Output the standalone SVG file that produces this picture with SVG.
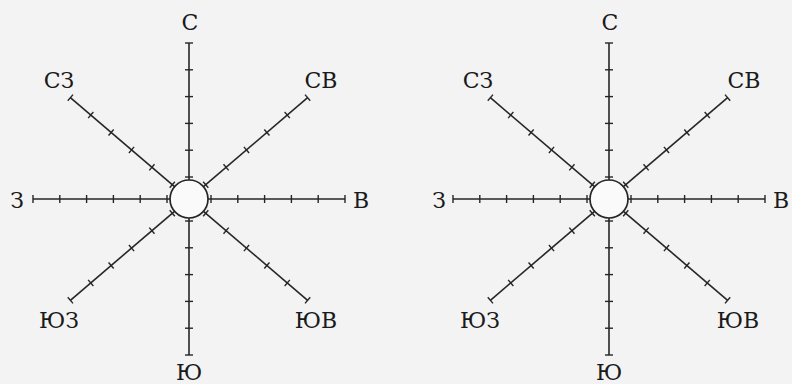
<svg xmlns="http://www.w3.org/2000/svg" xmlns:xlink="http://www.w3.org/1999/xlink" width="792" height="384" viewBox="0 0 792 384">
<style>
.ln{stroke:#262626;stroke-width:1.6;fill:none;stroke-linecap:butt}
.tk{stroke:#262626;stroke-width:1.4}
.lb{font-family:"DejaVu Serif","Liberation Serif",serif;font-size:22px;fill:#1a1a1a;text-anchor:middle}
</style>
<defs>
<g id="ray">
<line class="ln" x1="19" y1="0" x2="156" y2="0"/>
<line class="tk" x1="22" y1="-4" x2="22" y2="4"/>
<line class="tk" x1="48.8" y1="-4" x2="48.8" y2="4"/>
<line class="tk" x1="75.6" y1="-4" x2="75.6" y2="4"/>
<line class="tk" x1="102.4" y1="-4" x2="102.4" y2="4"/>
<line class="tk" x1="129.2" y1="-4" x2="129.2" y2="4"/>
<line class="tk" x1="156" y1="-4" x2="156" y2="4"/>
</g>
<g id="rose">
<use xlink:href="#ray" href="#ray" transform="rotate(0)"/>
<use xlink:href="#ray" href="#ray" transform="rotate(180)"/>
<use xlink:href="#ray" href="#ray" transform="rotate(-90)"/>
<use xlink:href="#ray" href="#ray" transform="rotate(90)"/>
<use xlink:href="#ray" href="#ray" transform="rotate(-40.5)"/>
<use xlink:href="#ray" href="#ray" transform="rotate(-139.5)"/>
<use xlink:href="#ray" href="#ray" transform="rotate(40.5)"/>
<use xlink:href="#ray" href="#ray" transform="rotate(139.5)"/>
<circle cx="0" cy="0" r="19" fill="#fafafa" stroke="#262626" stroke-width="1.7"/>
</g>
</defs>
<rect x="0" y="0" width="792" height="384" fill="#f3f3f3"/>
<g id="rose-left" transform="translate(189,199)">
<use xlink:href="#rose" href="#rose"/>
<text class="lb" x="1" y="-169">С</text>
<text class="lb" x="-130" y="-111">СЗ</text>
<text class="lb" x="132" y="-111">СВ</text>
<text class="lb" x="-172" y="8.5">З</text>
<text class="lb" x="172" y="8.5">В</text>
<text class="lb" x="-130" y="129">ЮЗ</text>
<text class="lb" x="127" y="129">ЮВ</text>
<text class="lb" x="0" y="181">Ю</text>
</g>
<g id="rose-right" transform="translate(609,199)">
<use xlink:href="#rose" href="#rose"/>
<text class="lb" x="1" y="-169">С</text>
<text class="lb" x="-131" y="-111">СЗ</text>
<text class="lb" x="135" y="-111">СВ</text>
<text class="lb" x="-170" y="8.5">З</text>
<text class="lb" x="172" y="8.5">В</text>
<text class="lb" x="-129" y="129">ЮЗ</text>
<text class="lb" x="129" y="129">ЮВ</text>
<text class="lb" x="0" y="181">Ю</text>
</g>
</svg>
